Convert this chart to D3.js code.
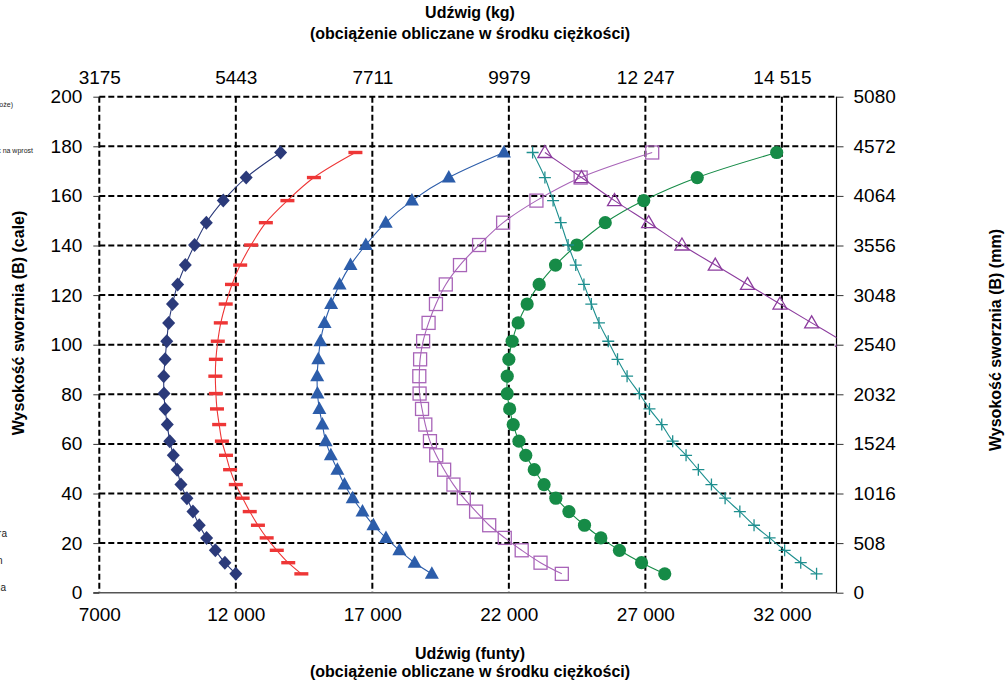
<!DOCTYPE html>
<html><head><meta charset="utf-8">
<script src="https://cdn.jsdelivr.net/npm/d3@7/dist/d3.min.js"></script>
<style>
body{margin:0;background:#fff;}
text{font-family:"Liberation Sans",Arial,sans-serif;}
</style></head><body>
<svg id="c" width="1006" height="681"></svg>
<script>
// ---- data ----
const heightsIn = [177.5,167.4,158.1,149.2,140.2,132.1,124.3,116.4,108.8,101.4,94.1,87.3,80.3,74.1,67.8,61.1,55.4,49.6,43.6,38.1,32.7,27.2,22.1,17.1,12.1,7.6];
const seriesDiamond = [13640,12380,11540,10920,10490,10150,9870,9680,9540,9470,9410,9360,9370,9410,9490,9580,9710,9850,9990,10210,10430,10660,10930,11250,11600,12000];
const seriesDash = [16380,14860,13890,13100,12560,12160,11860,11630,11450,11340,11270,11250,11270,11310,11390,11490,11640,11790,12000,12250,12510,12810,13130,13500,13920,14400];
const seriesTriangle = [21820,19800,18450,17490,16760,16200,15800,15490,15250,15100,15020,14980,14990,15060,15170,15290,15480,15720,15980,16280,16640,17040,17500,17990,18550,19180];
const seriesSquare = [27250,24630,23010,21790,20910,20210,19690,19330,19060,18860,18750,18720,18730,18820,18940,19110,19340,19630,19970,20350,20800,21280,21850,22470,23160,23940];
const seriesCircle = [31810,28900,26940,25530,24490,23710,23110,22670,22340,22120,22000,21940,21940,22030,22160,22370,22620,22930,23290,23720,24200,24770,25370,26050,26860,27710];
const seriesPlus = [22870,23320,23620,23900,24170,24450,24750,25020,25300,25640,25980,26330,26780,27150,27600,28000,28490,28940,29420,29920,30460,30980,31550,32100,32690,33270];
const seriesOpenTri = [23320,24660,25870,27120,28340,29560,30740,31930,33090,34230];

const xTicksLb = [7000,12000,17000,22000,27000,32000];
const xTicksKg = [3175,5443,7711,9979,12247,14515];
const yTicksIn = [0,20,40,60,80,100,120,140,160,180,200];
const yTicksMm = [0,508,1016,1524,2032,2540,3048,3556,4064,4572,5080];

const titleTop = ["Udźwig (kg)","(obciążenie obliczane w środku ciężkości)"];
const titleBottom = ["Udźwig (funty)","(obciążenie obliczane w środku ciężkości)"];
const titleLeft = "Wysokość sworznia (B) (cale)";
const titleRight = "Wysokość sworznia (B) (mm)";

// ---- layout ----
const L=99.3, R=836.5, T=96.7, B=592.7;
const svg = d3.select("#c");
const x = d3.scaleLinear().domain([7000,34000]).range([L,R]);
const xKg = d3.scaleLinear().domain([7000/2.20462,34000/2.20462]).range([L,R]);
const y = d3.scaleLinear().domain([0,200]).range([B,T]);
const yMm = d3.scaleLinear().domain([0,5080]).range([B,T]);
const fmt = v => v>=10000 ? d3.format(",")(v).replace(/,/g," ") : String(v);

// grid
const g = svg.append("g");
g.selectAll(".hg").data(yTicksIn.filter(v=>v>0)).join("line")
 .attr("x1",L).attr("x2",R).attr("y1",d=>y(d)).attr("y2",d=>y(d))
 .attr("stroke","#000").attr("stroke-width",2).attr("stroke-dasharray","6,3");
g.selectAll(".vg").data(xTicksLb).join("line")
 .attr("x1",d=>x(d)).attr("x2",d=>x(d)).attr("y1",T).attr("y2",B)
 .attr("stroke","#000").attr("stroke-width",2).attr("stroke-dasharray","6,3");

// axes
const tickStyle = sel => { sel.select(".domain").remove(); sel.selectAll("line").attr("stroke","#333"); sel.selectAll("text").attr("font-size","19px").attr("fill","#000"); };
svg.append("line").attr("x1",L-6).attr("x2",R).attr("y1",B).attr("y2",B).attr("stroke","#555").attr("stroke-width",1.5);
svg.append("line").attr("x1",R).attr("x2",R).attr("y1",T).attr("y2",B).attr("stroke","#000").attr("stroke-width",1.2);

svg.append("g").attr("transform",`translate(0,${B})`)
 .call(d3.axisBottom(x).tickValues(xTicksLb).tickFormat(fmt).tickSize(0).tickPadding(15)).call(tickStyle);
svg.append("g").attr("transform",`translate(0,${T})`)
 .call(d3.axisTop(xKg).tickValues(xTicksKg).tickFormat(fmt).tickSize(0).tickPadding(13)).call(tickStyle);
svg.append("g").attr("transform",`translate(${L},0)`)
 .call(d3.axisLeft(y).tickValues(yTicksIn).tickFormat(String).tickSize(6).tickPadding(11)).call(tickStyle);
svg.append("g").attr("transform",`translate(${R},0)`)
 .call(d3.axisRight(yMm).tickValues(yTicksMm).tickFormat(String).tickSize(7).tickPadding(10)).call(tickStyle);

// titles
const tt = svg.append("g").attr("font-weight","bold").attr("font-size","16px").attr("text-anchor","middle");
tt.append("text").attr("x",470).attr("y",18).text(titleTop[0]);
tt.append("text").attr("x",470).attr("y",39).text(titleTop[1]);
tt.append("text").attr("x",470).attr("y",659).text(titleBottom[0]);
tt.append("text").attr("x",470).attr("y",677).text(titleBottom[1]);
tt.append("text").attr("transform","translate(24,323) rotate(-90)").text(titleLeft);
tt.append("text").attr("transform","translate(1001,340) rotate(-90)").text(titleRight);

// clipped legend remnants at left edge
const lg = svg.append("g").attr("fill","#222").attr("text-anchor","end");
lg.append("text").attr("x",13).attr("y",107).attr("font-size","7px").text("Podwozie (łoże)");
lg.append("text").attr("x",33).attr("y",153).attr("font-size","7px").text("Wysięgnik na wprost");
lg.append("text").attr("x",7).attr("y",537).attr("font-size","10px").text("Stabilizatora");
lg.append("text").attr("x",2.5).attr("y",564).attr("font-size","10px").text("Podwozian");
lg.append("text").attr("x",6).attr("y",591).attr("font-size","10px").text("Przeciwwaga");

// clip
svg.append("defs").append("clipPath").attr("id","pc").append("rect")
 .attr("x",L).attr("y",T-10).attr("width",R-L).attr("height",B-T+10);
const plot = svg.append("g").attr("clip-path","url(#pc)");

const line = d3.line().x(d=>x(d[0])).y(d=>y(d[1])).curve(d3.curveCatmullRom.alpha(0.5));
const series = [
 {vals:seriesDiamond, color:"#2B3A7A", kind:"diamond"},
 {vals:seriesDash, color:"#EE3636", kind:"dash"},
 {vals:seriesTriangle, color:"#2C5DAA", kind:"tri"},
 {vals:seriesSquare, color:"#A864B8", kind:"square"},
 {vals:seriesCircle, color:"#168B47", kind:"circle"},
 {vals:seriesPlus, color:"#1E8F8F", kind:"plus"},
 {vals:seriesOpenTri, color:"#8C3C9E", kind:"otri"}
];
series.forEach(s=>{
  const pts = s.vals.map((v,i)=>[v,heightsIn[i]]);
  plot.append("path").attr("d",line(pts)).attr("fill","none").attr("stroke",s.color).attr("stroke-width",1.1);
  const m = plot.append("g").selectAll("g").data(pts).join("g")
    .attr("transform",d=>`translate(${x(d[0])},${y(d[1])})`);
  if(s.kind==="diamond") m.append("path").attr("d","M0,-7L6.5,0L0,7L-6.5,0Z").attr("fill",s.color);
  if(s.kind==="dash") m.append("rect").attr("x",-7).attr("y",-1.7).attr("width",14).attr("height",3.4).attr("fill",s.color);
  if(s.kind==="tri") m.append("path").attr("d","M0,-7.5L7,5L-7,5Z").attr("fill",s.color);
  if(s.kind==="square") m.append("rect").attr("x",-6.5).attr("y",-6.5).attr("width",13).attr("height",13).attr("fill","none").attr("stroke",s.color).attr("stroke-width",1.3);
  if(s.kind==="circle") m.append("circle").attr("r",6.6).attr("fill",s.color);
  if(s.kind==="plus") m.append("path").attr("d","M-6,0H6M0,-6V6").attr("stroke",s.color).attr("stroke-width",1.3);
  if(s.kind==="otri") m.append("path").attr("d","M0,-7L7,5L-7,5Z").attr("fill","none").attr("stroke",s.color).attr("stroke-width",1.3);
});
</script>
</body></html>
